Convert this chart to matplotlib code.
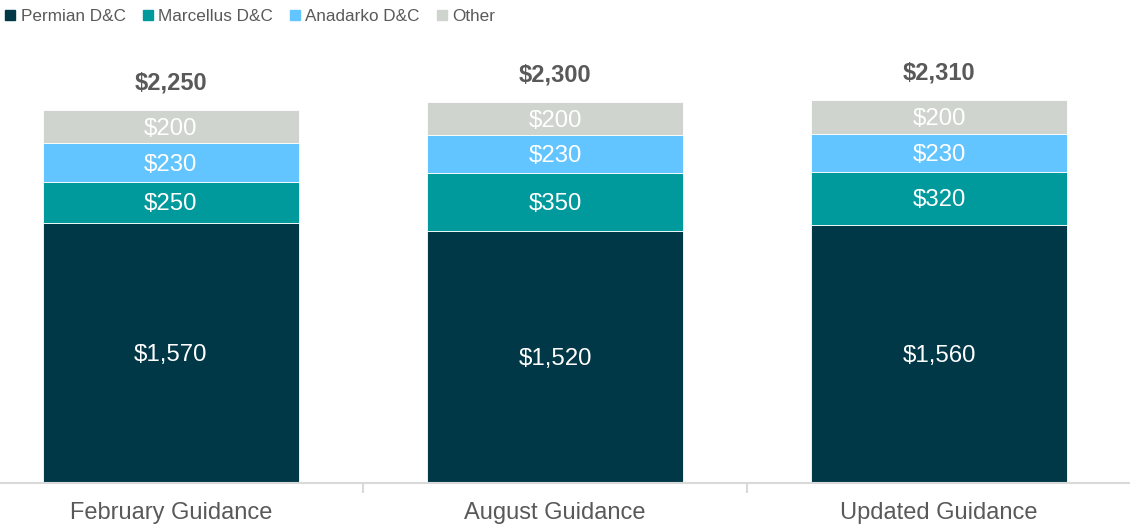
import numpy as np
import matplotlib
matplotlib.use('Agg')
import matplotlib.pyplot as plt
from matplotlib.lines import Line2D

plt.rcParams['font.family'] = ['Liberation Sans', 'DejaVu Sans']

categories = ['February Guidance', 'August Guidance', 'Updated Guidance']
series_names = ['Permian D&C', 'Marcellus D&C', 'Anadarko D&C', 'Other']
permian = [1570, 1520, 1560]
marcellus = [250, 350, 320]
anadarko = [230, 230, 230]
other = [200, 200, 200]
totals = [2250, 2300, 2310]

colors = ['#003847', '#009A9C', '#62C5FF', '#CFD4CE']
TXT = '#595959'

fig = plt.figure(figsize=(11.3, 5.24), dpi=100)
ax = fig.add_axes([0, 0.0782, 1, 0.8218])

x = np.arange(len(categories))
width = 0.667
bottom = np.zeros(len(categories))
for vals, col in zip([permian, marcellus, anadarko, other], colors):
    vals = np.array(vals, dtype=float)
    ax.bar(x, vals, width, bottom=bottom, color=col, edgecolor='white', linewidth=0.6)
    for xi, b, v in zip(x, bottom, vals):
        ax.annotate(f'${v:,.0f}', (xi, b + v / 2), xytext=(0, -1.5),
                    textcoords='offset points', ha='center', va='center',
                    color='white', fontsize=17.3)
    bottom += vals

for xi, t, b in zip(x, totals, bottom):
    ax.annotate(f'${t:,.0f}', (xi, b), xytext=(0, 19.5), textcoords='offset points',
                ha='center', va='center', fontsize=17, fontweight='bold', color=TXT)

ax.set_xlim(-0.445, 2.497)
ax.set_ylim(0, 2600)
for s in ['top', 'right', 'left']:
    ax.spines[s].set_visible(False)
ax.spines['bottom'].set_color('#D9D9D9')
ax.spines['bottom'].set_linewidth(1.5)
ax.set_yticks([])
ax.set_xticks(x)
ax.set_xticklabels(categories, fontsize=17, color=TXT)
ax.tick_params(axis='x', which='major', length=0, pad=14)
ax.set_xticks([0.5, 1.5], minor=True)
ax.tick_params(axis='x', which='minor', length=7, color='#D9D9D9', width=1.5)

handles = [Line2D([], [], marker='s', linestyle='none', markersize=7.5,
                  markerfacecolor=c, markeredgecolor=c) for c in colors]
fig.legend(handles, series_names, loc='upper left', bbox_to_anchor=(-0.009, 1.012),
           ncol=4, frameon=False, fontsize=12.3, labelcolor=TXT,
           handlelength=0.6, handletextpad=0.3, columnspacing=1.0)

fig.savefig('out.png', dpi=100)
